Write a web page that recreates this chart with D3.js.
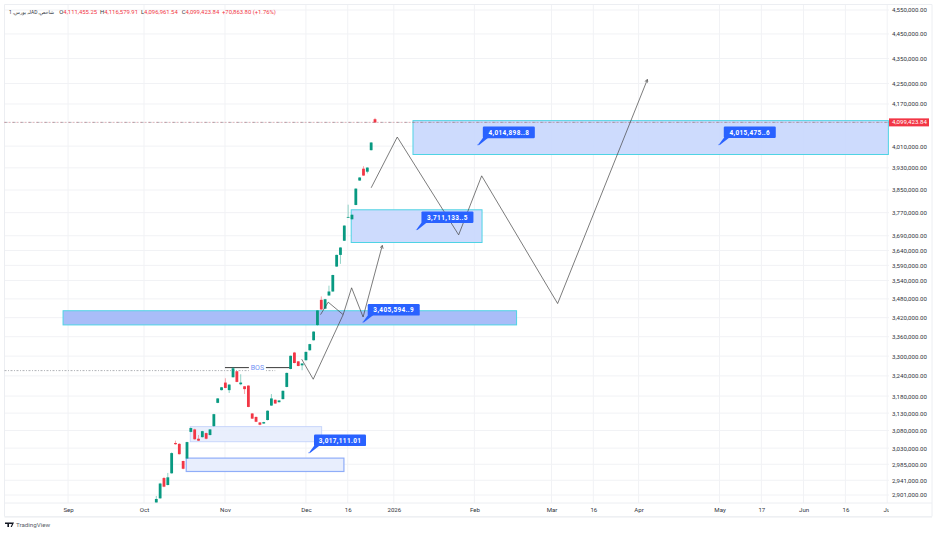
<!DOCTYPE html>
<html><head><meta charset="utf-8">
<script src="https://cdn.jsdelivr.net/npm/d3@7/dist/d3.min.js"></script>
<style>html,body{margin:0;background:#fff}svg{display:block;font-family:Roboto,"DejaVu Sans",sans-serif}</style>
</head><body><svg id="c" width="936" height="534"></svg>
<script>
// bar index, prices in thousands: open, high, low, close
const barOpen=[2881,2892,2947,2928,2960,3044.5,3042,2994,3001,3076,3083,3056.5,3061,3072.5,3067,3092.5,3160,3197.5,3220,3197.5,3236,3254,3215,3209,3211,3129,3119,3103,3100,3110,3152,3169,3162,3171,3207,3261,3311,3284,3272,3287.5,3318,3349,3396.5,3477,3448.5,3491,3504,3586,3625,3673,3754,3747,3797,3884,3927,3916,3995,4111.455];
const barHigh=[2898.5,2934,2950,2961,3018,3051,3044,2995,3048,3088,3085,3067,3079,3074,3084,3128,3174,3207,3233,3215,3267,3255,3245,3210,3212,3130,3120,3104,3105,3138,3186,3170,3168,3196.5,3250,3302,3313,3285,3278,3314,3338,3377,3444,3488,3480,3523,3559,3626,3651,3726,3798,3764,3856,3896,3936,3932,4025,4116.579];
const barLow=[2881,2891,2922,2927,2959,3039.5,3012,2971,3000,3075,3054,3050,3060,3055,3066,3091,3159,3196.5,3203,3189,3235,3221,3212,3186,3147,3113,3104,3095,3099,3109,3151,3157,3161,3170,3206,3260,3278,3269,3257,3286.5,3317,3348,3395,3445,3447,3490,3503,3585,3595,3672,3753,3746,3796,3883,3901,3910,3994,4096.961];
const barClose=[2890.3,2932,2923.5,2949,3016,3041,3013,2972.5,3047,3087,3055,3051,3078,3056.5,3083,3127,3173,3206,3204,3214,3263,3222,3220,3200.5,3148,3114,3105,3096.5,3104,3137,3173,3158,3167,3195.5,3249,3301,3279,3270,3277.5,3313,3337,3376,3443,3446,3479,3504,3558,3625,3650,3725,3755,3762.5,3855,3895,3902,3931,4023.5,4099.423];

const priceTicks=[4550000,4450000,4350000,4250000,4170000,4010000,3930000,3850000,3770000,3690000,3640000,3590000,3540000,3480000,3420000,3360000,3300000,3240000,3180000,3130000,3080000,3030000,2985000,2941000,2901000];
const timeTickLabels=["Sep","Oct","Nov","Dec","16","2026","Feb","Mar","16","Apr","May","17","Jun","16","Jul"];
const timeTickBars=[-23,-3.2,17.9,39,49.9,61.9,82.9,103,113.9,125.7,146.8,157.7,168.7,179.6,190.5];

const zoneBars=[[66.9,190.8],[50.8,84.9],[-24.3,93.9],[8.85,43.1],[7.8,48.9]];
const zonePrices=[[4106,3979],[3780,3667],[3442,3397],[3091,3048],[3002,2965]];
const zoneKinds=["strong","strong","deep","pale","paleEdge"];

const forecastA=[[37.9,3290.5],[40.9,3230],[48.7,3429.5],[50.9,3516],[53.9,3422],[58.9,3657]];
const forecastB=[[42.8,3429.5],[44.8,3469.5],[48.7,3429.5]];
const forecastC=[[56,3858],[62.8,4044],[78.8,3693],[84.8,3901],[104.6,3465],[128,4266]];

const calloutBars=[39.8,53.8,67.8,83.8,146.6];
const calloutPrices=[3017111.01,3405594.9,3711133.5,4014898.8,4015475.6];
const calloutTexts=["3,017,111.01","3,405,594..9","3,711,133..5","4,014,898..8","4,015,475..6"];

const lastPrice=4099423.84, bosPrice=3265000, bosLevel=3256000;
const bosBars=[17.9,34.8], bosDotEnd=31, legendOHLC=["4,111,455.25","4,116,579.91","4,096,961.54","4,099,423.84"];

const green="#089981", red="#f23645", blue="#2962ff", cyan="#4fd3e4";
const L=4.5,R=889,T=4.5,B=503,BB=516.5,RR=932;
const svg=d3.select("#c");
const x=d3.scaleLinear().domain([0,57]).range([156.3,375]);
const y=d3.scaleLog().domain([2901000,4550000]).range([495,10]);

svg.append("defs").html(`<clipPath id="xc"><rect x="0" y="${B}" width="${R}" height="20"/></clipPath>
<marker id="ah" viewBox="0 0 6 6" refX="5" refY="3" markerWidth="4" markerHeight="4" markerUnits="userSpaceOnUse" orient="auto"><path d="M0.5 0.5L5 3L0.5 5.5" fill="none" stroke="#555" stroke-width="1.1"/></marker>`);

// grid
const grid=svg.append("g").attr("stroke","#f1f2f5").attr("stroke-width",1);
grid.selectAll(".h").data(priceTicks).join("line").attr("x1",L).attr("x2",R).attr("y1",d=>y(d)).attr("y2",d=>y(d));
grid.selectAll(".v").data(timeTickBars).join("line").attr("y1",T).attr("y2",B).attr("x1",d=>x(d)).attr("x2",d=>x(d));

// frame
const frame=svg.append("g").attr("fill","none").attr("stroke","#eceef2").attr("stroke-width",1);
frame.append("path").attr("d",`M${L} ${BB}V${T}H${RR}V${BB}H${L}`);
frame.append("path").attr("d",`M${L} ${B}H${RR}`);
svg.append("rect").attr("x",L).attr("y",BB).attr("width",RR-L).attr("height",1.2).attr("fill","#f0f1f4");

// zones
const zoneStyle={strong:["#c9d8fd",cyan,1,.92],deep:["#a9bdf8",cyan,1,1],pale:["#e7edfd","#c4d3fb",.9,.9],paleEdge:["#e7edfd","#8fadf8",1.2,.95]};
svg.append("g").selectAll("rect").data(zoneKinds).join("rect")
 .attr("x",(d,i)=>x(zoneBars[i][0])).attr("width",(d,i)=>x(zoneBars[i][1])-x(zoneBars[i][0]))
 .attr("y",(d,i)=>y(zonePrices[i][0]*1000)).attr("height",(d,i)=>y(zonePrices[i][1]*1000)-y(zonePrices[i][0]*1000))
 .attr("fill",d=>zoneStyle[d][0]).attr("fill-opacity",d=>zoneStyle[d][3]).attr("stroke",d=>zoneStyle[d][1]).attr("stroke-width",d=>zoneStyle[d][2]);

// last price lines
svg.append("line").attr("x1",L).attr("x2",R).attr("y1",y(lastPrice)).attr("y2",y(lastPrice)).attr("stroke","#8a8d96").attr("stroke-width",.7).attr("stroke-dasharray","3 2 1 2");
svg.append("line").attr("x1",L).attr("x2",R).attr("y1",y(lastPrice)).attr("y2",y(lastPrice)).attr("stroke",red).attr("stroke-opacity",.6).attr("stroke-width",.7).attr("stroke-dasharray","1 3");

// BOS
svg.append("line").attr("x1",L).attr("x2",x(bosDotEnd)).attr("y1",y(bosLevel)).attr("y2",y(bosLevel)).attr("stroke","#8f9299").attr("stroke-width",.7).attr("stroke-dasharray","2 1.5 1 1.5");
svg.append("line").attr("x1",x(bosBars[0])).attr("x2",x(bosBars[1])).attr("y1",y(bosPrice)).attr("y2",y(bosPrice)).attr("stroke","#222").attr("stroke-width",.9);
const bm=(x(bosBars[0])+x(bosBars[1]))/2;
svg.append("rect").attr("x",bm-8.5).attr("y",y(bosPrice)-4).attr("width",17).attr("height",8).attr("fill","#fff");
svg.append("text").attr("x",bm).attr("y",y(bosPrice)+2.4).attr("text-anchor","middle").attr("font-size",7).attr("fill","#6f90f3").text("BOS");

// candles
const bars=svg.append("g");
barOpen.forEach((o,i)=>{
 const c=barClose[i],col=c>=o?green:red,X=x(i);
 bars.append("line").attr("x1",X).attr("x2",X).attr("y1",y(barHigh[i]*1000)).attr("y2",y(barLow[i]*1000)).attr("stroke",col).attr("stroke-opacity",.55).attr("stroke-width",.8);
 const t=y(Math.max(o,c)*1000),b=y(Math.min(o,c)*1000);
 bars.append("rect").attr("x",X-1.4).attr("width",2.8).attr("y",t).attr("height",Math.max(.8,b-t)).attr("fill",col);
});

// forecast paths
const ln=d3.line().x(d=>x(d[0])).y(d=>y(d[1]*1000));
[[forecastA,true],[forecastB,false],[forecastC,true]].forEach(([p,a])=>{
 const s=svg.append("path").attr("d",ln(p)).attr("fill","none").attr("stroke","#444").attr("stroke-width",.7);
 if(a)s.attr("marker-end","url(#ah)");
});

// callouts
const W=52;
calloutTexts.forEach((t,i)=>{
 const X=x(calloutBars[i]),Y=y(calloutPrices[i]),g=svg.append("g").attr("transform",`translate(${X},${Y})`);
 g.append("path").attr("d","M0 0L5.5 -7.5L11 -7.5L1 0.4Z").attr("fill",blue);
 g.append("rect").attr("x",5).attr("y",-18.2).attr("width",W).attr("height",11.6).attr("rx",1.2).attr("fill",blue);
 g.append("circle").attr("r",.7).attr("fill","#7fa3ff");
 g.append("text").attr("x",5+W/2).attr("y",-10).attr("text-anchor","middle").attr("font-size",6.4).attr("letter-spacing",.38).attr("font-weight",700).attr("fill","#fff").text(t);
});

// axes
const ya=d3.axisRight(y).tickValues(priceTicks).tickSize(0).tickPadding(0).tickFormat(d3.format(",.2f"));
const yg=svg.append("g").attr("transform",`translate(892,0)`).call(ya);
yg.select(".domain").remove();
yg.selectAll("text").attr("font-size",6.1).attr("font-family","Roboto").attr("fill","#30343c");
const xa=d3.axisBottom(x).tickValues(timeTickBars).tickSize(0).tickPadding(0).tickFormat((d,i)=>timeTickLabels[i]);
const xg=svg.append("g").attr("clip-path","url(#xc)").append("g").attr("transform",`translate(0,${B+4.5})`).call(xa);
xg.select(".domain").remove();
xg.selectAll("text").attr("font-size",6.1).attr("font-family","Roboto").attr("fill","#30343c");

// last price tag
svg.append("rect").attr("x",889).attr("y",y(lastPrice)-4).attr("width",40).attr("height",8).attr("fill",red);
svg.append("text").attr("x",892).attr("y",y(lastPrice)+2.1).attr("font-size",6.1).attr("fill","#fff").text(d3.format(",.2f")(lastPrice));

// legend
const lg=svg.append("g").attr("font-size",5.9);
lg.append("text").attr("x",9).attr("y",13.7).attr("font-size",4.9).attr("fill","#30343c").attr("font-family","Roboto,'DejaVu Sans'").text("1 ,بورس ,JAD ,شاخص");
["O","H","L","C"].forEach((k,i)=>{
 const X=59.3+i*40.8,t=lg.append("text").attr("x",X).attr("y",13.7);
 t.append("tspan").attr("fill","#30343c").text(k);
 t.append("tspan").attr("fill",red).text(legendOHLC[i]);
});
lg.append("text").attr("x",222).attr("y",13.7).attr("fill",red).text("+70,863.80 (+1.76%)");

// footer
svg.append("path").attr("d","M5 522.5H9V527H7.4V524H5ZM9.6 522.5H14L11.8 527H10.6L12 524H9.6Z").attr("fill","#131722");
svg.append("circle").attr("cx",9.6).attr("cy",523.3).attr("r",.8).attr("fill","#131722");
svg.append("text").attr("x",16).attr("y",527.3).attr("font-size",6.2).attr("fill","#5a5e68").text("TradingView");
</script></body></html>
